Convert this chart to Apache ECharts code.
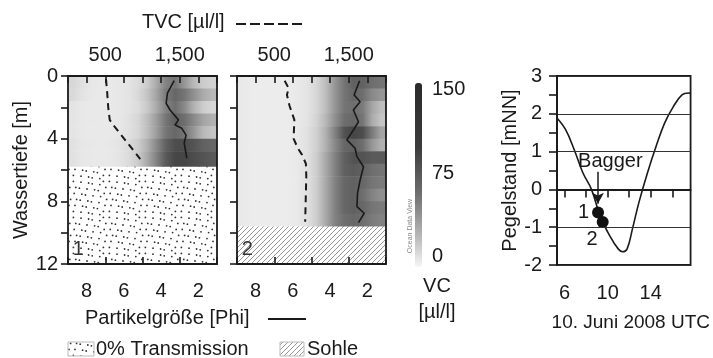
<!DOCTYPE html>
<html>
<head>
<meta charset="utf-8">
<script src="https://cdn.jsdelivr.net/npm/echarts@6/dist/echarts.min.js"></script>
<style>
  html, body { margin: 0; padding: 0; background: #fff; }
  #chart { width: 713px; height: 358px; }
</style>
</head>
<body>
<div id="chart"></div>
<script>
// ---- data ----
// heat map columns (Phi bin centres, left = coarse phi 9 -> right = phi 1)
const phiCenters = [8.75, 8.25, 7.75, 7.25, 6.75, 6.25, 5.75, 5.25, 4.75, 4.25, 3.75, 3.25, 2.75, 2.25, 1.75, 1.25];
const phiEdges = [9, 1];

// profile 1: depth bands [m] and VC [µl/l] per band
const depthEdges1 = [0, 0.8, 1.6, 2.4, 3.2, 4.0, 4.8, 5.8];
const vc1 = [
  [22, 15, 10, 8, 8, 10, 12, 18, 30, 55, 85, 95, 70, 45, 30, 25],
  [20, 13, 9, 8, 8, 10, 12, 20, 35, 60, 90, 105, 95, 75, 55, 45],
  [12, 9, 8, 8, 8, 10, 12, 18, 32, 55, 85, 100, 80, 50, 30, 22],
  [12, 9, 8, 8, 8, 10, 14, 22, 40, 65, 95, 110, 100, 80, 60, 50],
  [12, 9, 8, 8, 8, 10, 14, 22, 40, 65, 95, 105, 95, 70, 45, 35],
  [14, 10, 9, 8, 9, 12, 18, 28, 50, 80, 110, 125, 125, 120, 110, 105],
  [14, 10, 9, 8, 9, 12, 18, 30, 55, 85, 115, 130, 130, 125, 120, 115]
];
// profile 2
const depthEdges2 = [0, 0.8, 1.6, 2.4, 3.2, 4.0, 4.8, 5.6, 6.4, 7.2, 8.0, 8.8, 9.6];
const vc2 = [
  [8, 6, 6, 6, 6, 6, 8, 12, 22, 40, 70, 95, 110, 110, 100, 95],
  [8, 6, 6, 6, 6, 6, 8, 12, 22, 40, 70, 95, 105, 100, 80, 70],
  [8, 6, 6, 6, 6, 6, 8, 12, 22, 40, 70, 95, 100, 90, 60, 40],
  [8, 6, 6, 6, 6, 6, 8, 12, 24, 45, 75, 100, 105, 95, 55, 35],
  [8, 6, 6, 6, 6, 6, 8, 14, 26, 50, 85, 120, 130, 125, 90, 60],
  [8, 6, 6, 6, 6, 6, 8, 14, 26, 50, 80, 105, 110, 100, 70, 50],
  [8, 6, 6, 6, 6, 6, 8, 14, 28, 55, 85, 110, 120, 120, 115, 115],
  [8, 6, 6, 6, 6, 6, 8, 14, 28, 55, 85, 110, 115, 110, 100, 95],
  [8, 6, 6, 6, 6, 6, 8, 14, 28, 55, 85, 105, 110, 105, 95, 90],
  [8, 6, 6, 6, 6, 6, 8, 14, 28, 55, 85, 105, 110, 100, 85, 75],
  [8, 6, 6, 6, 6, 6, 8, 14, 28, 55, 85, 105, 110, 105, 95, 90],
  [8, 6, 6, 6, 6, 6, 8, 14, 28, 55, 85, 100, 105, 100, 90, 85]
];

// TVC (dashed) and mean particle size (solid) profiles
const tvcDepth1 = [0.2, 1.0, 2.0, 2.8, 3.2, 3.8, 4.4, 5.0, 5.3];
const tvc1 = [510, 525, 540, 560, 620, 720, 820, 920, 970];
const phiDepth1 = [0.3, 1.1, 1.74, 2.17, 2.8, 3.13, 3.34, 3.77, 4.28, 5.25];
const phi1 = [3.30, 3.66, 3.73, 3.52, 3.07, 3.25, 2.89, 2.66, 2.76, 2.62];

const tvcDepth2 = [0.3, 0.8, 1.2, 1.9, 2.8, 4.0, 4.6, 5.0, 5.6, 6.4, 7.4, 8.4, 9.3];
const tvc2 = [640, 695, 670, 705, 770, 760, 815, 870, 925, 930, 925, 920, 915];
const phiDepth2 = [0.3, 1.21, 1.64, 2.17, 2.92, 3.45, 4.08, 4.61, 5.15, 5.79, 6.64, 7.49, 8.34, 8.76, 9.36];
const phi2 = [2.42, 2.71, 2.39, 2.75, 2.48, 2.75, 3.10, 2.66, 2.56, 2.21, 2.39, 2.53, 2.56, 2.17, 2.48];

// depth ranges of the 0% transmission zone (profile 1) and the bed (profile 2)
const transmission1 = [5.8, 12];
const sohle2 = [9.6, 12];

// colour bar range
const vcTicks = [0, 75, 150];
const colorbarRange = [-9, 156];

// tide curve
const tideHours = [5.3, 6.1, 6.9, 7.7, 8.5, 9.3, 10.2, 11.0, 11.4, 11.8, 12.3, 12.9, 13.7, 14.5, 15.3, 16.1, 16.9, 17.5, 17.7];
const tideLevel = [1.89, 1.58, 1.05, 0.44, 0.0, -0.7, -1.23, -1.58, -1.65, -1.58, -1.05, -0.35, 0.44, 1.14, 1.76, 2.19, 2.5, 2.55, 2.54];
const baggerPts = [[9.11, -0.61], [9.54, -0.86]];
const baggerLabels = ['1', '2'];
const arrowFrom = [9.1, 0.47];
const arrowTo = [9.1, -0.38];
const baggerText = [10.25, 0.74];

// ---- helpers ----
const FONT = 'Liberation Sans';
const FS = 20;
const INK = '#1a1a1a';

function gray(v) {
  const g = Math.max(0, Math.min(255, Math.round(244 - 1.34 * v)));
  return 'rgb(' + g + ',' + g + ',' + g + ')';
}

function heatRows(edges, rows) {
  return rows.map((r, i) => [edges[i], edges[i + 1]].concat(r));
}

function renderHeatRow(params, api) {
  const p0 = api.coord([phiEdges[0], api.value(0)]);
  const p1 = api.coord([phiEdges[1], api.value(1)]);
  const stops = phiCenters.map((c, k) => ({
    offset: (phiEdges[0] - c) / (phiEdges[0] - phiEdges[1]),
    color: gray(api.value(2 + k))
  }));
  stops.unshift({ offset: 0, color: stops[0].color });
  stops.push({ offset: 1, color: stops[stops.length - 1].color });
  return {
    type: 'rect',
    shape: { x: p0[0], y: p0[1], width: p1[0] - p0[0], height: p1[1] - p0[1] + 0.6 },
    style: { fill: new echarts.graphic.LinearGradient(0, 0, 1, 0, stops) }
  };
}

// textures
function dotPattern() {
  const c = document.createElement('canvas');
  c.width = 36; c.height = 36;
  const ctx = c.getContext('2d');
  ctx.fillStyle = '#fff';
  ctx.fillRect(0, 0, 36, 36);
  ctx.fillStyle = '#333';
  for (let i = 0; i < 6; i++) {
    for (let j = 0; j < 6; j++) {
      const jx = ((i * 7 + j * 13) % 5) - 2;
      const jy = ((i * 11 + j * 5) % 5) - 2;
      ctx.beginPath();
      ctx.arc(i * 6 + 3 + jx * 0.8, j * 6 + 3 + jy * 0.8, 0.9, 0, Math.PI * 2);
      ctx.fill();
    }
  }
  return c;
}
function hatchPattern() {
  const c = document.createElement('canvas');
  c.width = 5; c.height = 5;
  const ctx = c.getContext('2d');
  ctx.fillStyle = '#fff';
  ctx.fillRect(0, 0, 5, 5);
  ctx.strokeStyle = '#8a8a8a';
  ctx.lineWidth = 0.9;
  ctx.beginPath();
  ctx.moveTo(0, 5); ctx.lineTo(5, 0);
  ctx.moveTo(-1, 1); ctx.lineTo(1, -1);
  ctx.moveTo(4, 6); ctx.lineTo(6, 4);
  ctx.stroke();
  return c;
}
const DOTS = { image: dotPattern(), repeat: 'repeat' };
const HATCH = { image: hatchPattern(), repeat: 'repeat' };

function zoneRender(fill) {
  return function (params, api) {
    const p0 = api.coord([phiEdges[0], api.value(0)]);
    const p1 = api.coord([phiEdges[1], api.value(1)]);
    return {
      type: 'rect',
      shape: { x: p0[0], y: p0[1], width: p1[0] - p0[0], height: p1[1] - p0[1] },
      style: { fill: fill }
    };
  };
}

const axisLine = { show: true, lineStyle: { color: INK, width: 1.8 } };
const tickStyle = { color: INK, width: 1.6 };
const labelStyle = { fontFamily: FONT, fontSize: FS, color: INK };

function phiAxis(grid) {
  return {
    type: 'value', gridIndex: grid, position: 'bottom', inverse: true,
    min: 1, max: 9, interval: 1, z: 10,
    axisLine: axisLine,
    axisTick: { show: true, length: 7, lineStyle: tickStyle },
    axisLabel: Object.assign({ margin: 17, formatter: v => (v % 2 === 0 ? String(v) : '') }, labelStyle),
    splitLine: { show: false }
  };
}
function tvcAxis(grid) {
  return {
    type: 'value', gridIndex: grid, position: 'top',
    min: 0, max: 2000, interval: 500, z: 10,
    axisLine: axisLine,
    axisTick: { show: true, length: 7, lineStyle: tickStyle },
    axisLabel: Object.assign({
      margin: 11,
      formatter: v => (v === 500 ? '500' : v === 1500 ? '1,500' : '')
    }, labelStyle),
    splitLine: { show: false }
  };
}
function depthAxis(grid, labels) {
  return {
    type: 'value', gridIndex: grid, inverse: true,
    min: 0, max: 12, interval: 2, z: 10,
    axisLine: axisLine,
    axisTick: { show: true, length: 7, lineStyle: tickStyle },
    axisLabel: Object.assign({ show: labels, margin: 10, formatter: v => (v % 4 === 0 ? String(v) : '') }, labelStyle),
    splitLine: { show: false },
    name: labels ? 'Wassertiefe [m]' : '',
    nameLocation: 'middle', nameGap: 37, nameRotate: 90,
    nameTextStyle: { fontFamily: FONT, fontSize: FS, color: INK }
  };
}
function rightBorder(grid) {
  return {
    type: 'value', gridIndex: grid, position: 'right', min: 0, max: 12, z: 10,
    axisLine: axisLine, axisTick: { show: false }, axisLabel: { show: false }, splitLine: { show: false }
  };
}

const pairs = (xs, ys) => xs.map((x, i) => [x, ys[i]]);
const textLabel = (text) => ({
  show: true, position: 'inside', formatter: text, fontFamily: FONT, fontSize: FS, color: INK
});

const chart = echarts.init(document.getElementById('chart'), null, { renderer: 'canvas' });

chart.setOption({
  animation: false,
  backgroundColor: '#fff',
  grid: [
    { left: 68, top: 76, width: 149, height: 188 },
    { left: 237, top: 76, width: 149, height: 188 },
    { left: 415, top: 83, width: 7, height: 184 },
    { left: 557, top: 76, width: 153, height: 189, show: true, borderColor: INK, borderWidth: 1.8 }
  ],
  xAxis: [
    phiAxis(0), tvcAxis(0),
    phiAxis(1), tvcAxis(1),
    { type: 'value', gridIndex: 2, min: 0, max: 1, show: false },
    {
      type: 'value', gridIndex: 3, min: 5.3, max: 17.7, z: 10,
      axisLine: axisLine,
      axisTick: { show: true, length: 8, lineStyle: tickStyle, customValues: [6, 8, 10, 12, 14, 16] },
      axisLabel: Object.assign({ margin: 18, customValues: [6, 10, 14] }, labelStyle),
      splitLine: { show: false },
      name: '10. Juni 2008 UTC', nameLocation: 'middle', nameGap: 48,
      nameTextStyle: { fontFamily: FONT, fontSize: 19, color: INK, padding: [0, 0, 0, 14] }
    }
  ],
  yAxis: [
    depthAxis(0, true), rightBorder(0),
    depthAxis(1, false), rightBorder(1),
    {
      type: 'value', gridIndex: 2, position: 'right', min: colorbarRange[0], max: colorbarRange[1],
      axisLine: { show: false }, axisTick: { show: false },
      axisLabel: Object.assign({ margin: 10, customValues: vcTicks }, labelStyle),
      splitLine: { show: false }
    },
    {
      type: 'value', gridIndex: 3, min: -2, max: 3, interval: 1, z: 10,
      axisLine: axisLine,
      axisTick: { show: true, length: 8, lineStyle: tickStyle },
      minorTick: { show: true, splitNumber: 2, length: 8, lineStyle: tickStyle },
      axisLabel: Object.assign({ margin: 15 }, labelStyle),
      splitLine: { show: true, lineStyle: { color: '#333', width: 1.2 } },
      name: 'Pegelstand [mNN]', nameLocation: 'middle', nameGap: 37, nameRotate: 90,
      nameTextStyle: { fontFamily: FONT, fontSize: FS, color: INK }
    }
  ],
  series: [
    // heat maps
    { type: 'custom', xAxisIndex: 0, yAxisIndex: 0, renderItem: renderHeatRow, data: heatRows(depthEdges1, vc1), z: 1, silent: true },
    { type: 'custom', xAxisIndex: 2, yAxisIndex: 2, renderItem: renderHeatRow, data: heatRows(depthEdges2, vc2), z: 1, silent: true },
    // textured zones
    { type: 'custom', xAxisIndex: 0, yAxisIndex: 0, renderItem: zoneRender(DOTS), data: [transmission1], z: 2, silent: true },
    { type: 'custom', xAxisIndex: 2, yAxisIndex: 2, renderItem: zoneRender(HATCH), data: [sohle2], z: 2, silent: true },
    // profiles
    { type: 'line', xAxisIndex: 1, yAxisIndex: 0, data: pairs(tvc1, tvcDepth1), showSymbol: false, z: 5,
      lineStyle: { color: INK, width: 2, type: [7, 5] } },
    { type: 'line', xAxisIndex: 0, yAxisIndex: 0, data: pairs(phi1, phiDepth1), showSymbol: false, z: 5,
      lineStyle: { color: INK, width: 1.6 } },
    { type: 'line', xAxisIndex: 3, yAxisIndex: 2, data: pairs(tvc2, tvcDepth2), showSymbol: false, z: 5,
      lineStyle: { color: INK, width: 2, type: [7, 5] } },
    { type: 'line', xAxisIndex: 2, yAxisIndex: 2, data: pairs(phi2, phiDepth2), showSymbol: false, z: 5,
      lineStyle: { color: INK, width: 1.6 } },
    // profile numbers
    { type: 'scatter', xAxisIndex: 0, yAxisIndex: 0, data: [[8.45, 11.1]], symbolSize: 0, z: 6,
      itemStyle: { opacity: 1 }, label: Object.assign(textLabel('1'), { color: '#333' }) },
    { type: 'scatter', xAxisIndex: 2, yAxisIndex: 2, data: [[8.45, 11.1]], symbolSize: 0, z: 6,
      itemStyle: { opacity: 1 }, label: Object.assign(textLabel('2'), { color: '#333' }) },
    // colour bar
    { type: 'custom', xAxisIndex: 4, yAxisIndex: 4, data: [colorbarRange], silent: true,
      renderItem: (params, api) => {
        const a = api.coord([0, api.value(1)]);
        const b = api.coord([1, api.value(0)]);
        return {
          type: 'rect', shape: { x: a[0], y: a[1], width: b[0] - a[0], height: b[1] - a[1], r: 3 },
          style: { fill: new echarts.graphic.LinearGradient(0, 0, 0, 1, [
            { offset: 0, color: '#2a2a2a' }, { offset: 0.35, color: '#3c3c3c' },
            { offset: 0.6, color: '#6e6e6e' }, { offset: 0.85, color: '#bdbdbd' }, { offset: 1, color: '#f6f6f6' }
          ]) }
        };
      } },
    // tide
    { type: 'line', xAxisIndex: 5, yAxisIndex: 5, data: pairs(tideHours, tideLevel), smooth: 0.4,
      showSymbol: false, lineStyle: { color: INK, width: 1.6 }, z: 4 },
    { type: 'scatter', xAxisIndex: 5, yAxisIndex: 5, data: baggerPts, symbolSize: 12, z: 6,
      itemStyle: { color: '#111', opacity: 1 },
      label: { show: true, fontFamily: FONT, fontSize: FS, color: INK,
        formatter: p => baggerLabels[p.dataIndex],
        position: 'left', distance: 3 },
      labelLayout: p => (p.dataIndex === 1 ? { dx: 4, dy: 18 } : {}),
      markLine: {
        silent: true, symbol: ['none', 'arrow'], symbolSize: [9, 11],
        lineStyle: { color: INK, width: 1.5, type: 'solid' }, label: { show: false },
        data: [[{ coord: arrowFrom }, { coord: arrowTo }]]
      }
    },
    { type: 'scatter', xAxisIndex: 5, yAxisIndex: 5, data: [baggerText], symbolSize: 0, z: 6,
      itemStyle: { opacity: 1 }, label: textLabel('Bagger') }
  ],
  graphic: [
    { type: 'text', left: 142, top: 12, style: { text: 'TVC [µl/l]', font: FS + 'px "Liberation Sans"', fill: INK } },
    { type: 'line', shape: { x1: 236, y1: 24, x2: 305, y2: 24 }, style: { stroke: INK, lineWidth: 2, lineDash: [10, 4] } },
    { type: 'text', left: 85, top: 308, style: { text: 'Partikelgröße [Phi]', font: FS + 'px "Liberation Sans"', fill: INK } },
    { type: 'line', shape: { x1: 268, y1: 319, x2: 306, y2: 319 }, style: { stroke: INK, lineWidth: 2 } },
    { type: 'text', x: 437, y: 286, style: { text: 'VC', font: FS + 'px "Liberation Sans"', fill: INK, align: 'center', verticalAlign: 'middle' } },
    { type: 'text', x: 437, y: 312, style: { text: '[µl/l]', font: FS + 'px "Liberation Sans"', fill: INK, align: 'center', verticalAlign: 'middle' } },
    { type: 'text', x: 410, y: 226, rotation: Math.PI / 2,
      style: { text: 'Ocean Data View', font: '7px "Liberation Sans"', fill: '#888', align: 'center', verticalAlign: 'middle' } },
    // legend for the textures
    { type: 'rect', shape: { x: 68, y: 342, width: 26, height: 14 }, style: { fill: DOTS, stroke: '#bbb', lineWidth: 1 } },
    { type: 'text', x: 96, y: 349, style: { text: '0% Transmission', font: FS + 'px "Liberation Sans"', fill: INK, verticalAlign: 'middle' } },
    { type: 'rect', shape: { x: 280, y: 342, width: 24, height: 14 }, style: { fill: HATCH, stroke: '#bbb', lineWidth: 1 } },
    { type: 'text', x: 307, y: 349, style: { text: 'Sohle', font: FS + 'px "Liberation Sans"', fill: INK, verticalAlign: 'middle' } }
  ]
});
</script>
</body>
</html>
